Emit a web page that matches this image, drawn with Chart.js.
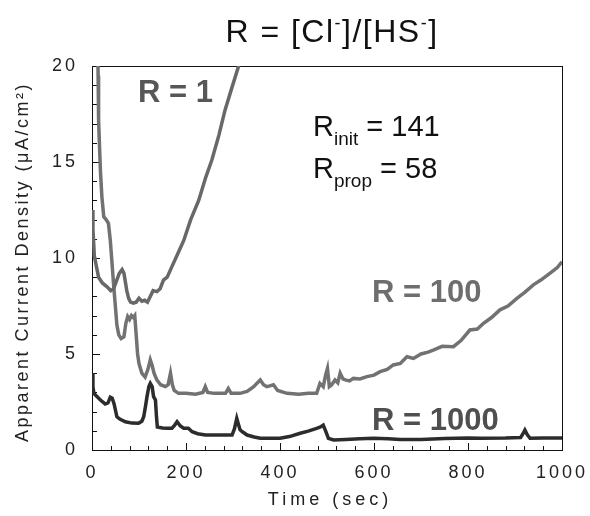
<!DOCTYPE html>
<html>
<head>
<meta charset="utf-8">
<script src="https://cdn.jsdelivr.net/npm/chart.js@4.4.1/dist/chart.umd.min.js"></script>
<style>
  html, body { margin: 0; padding: 0; background: #fff; }
  #wrap { width: 590px; height: 516px; }
</style>
</head>
<body>
<div id="wrap"><canvas id="chart"></canvas></div>
<script>
// ── Data ──
const xTickValues = [0, 200, 400, 600, 800, 1000];
const yTickValues = [0, 5, 10, 15, 20];

// R = 1
const timeR1 = [0, 2, 5, 9, 14, 22, 32, 40, 46, 52, 58, 64, 68, 74, 78, 82,
  88, 94, 100, 106, 112, 118, 124, 130, 138, 145, 152, 160, 170, 182,
  195, 210, 227, 242, 255, 270, 283, 298, 312, 318];
const currentR1 = [12.5, 11.5, 10.1, 9.6, 9.0, 8.7, 8.5, 8.3, 8.4, 8.8, 9.2, 9.4, 9.2, 8.3, 7.9, 7.7,
  7.65, 7.7, 7.9, 7.75, 7.8, 7.7, 8.0, 8.3, 8.25, 8.4, 8.85, 9.0, 9.55, 10.2,
  10.9, 12.0, 13.0, 14.2, 15.1, 16.4, 17.7, 18.9, 20.0, 20.5];

// R = 100
const timeR100 = [12, 13, 14, 16, 18, 21, 25, 30, 35, 39, 43, 46, 50, 53, 57, 62,
  68, 72, 76, 80, 84, 88, 91, 94, 97, 100, 106, 113, 119, 124,
  128, 132, 138, 146, 156, 162, 167, 171, 175, 184, 200, 220, 236, 241,
  246, 260, 284, 290, 296, 315, 330, 344, 352, 358, 365, 372, 380, 386,
  395, 415, 440, 460, 478, 485, 492, 497, 501, 505, 510, 517, 523, 528,
  534, 539, 548, 556, 570, 585, 600, 613, 628, 641, 656, 670, 684, 700,
  715, 726, 745, 769, 785, 804, 820, 833, 850, 868, 885, 904, 920, 939,
  955, 974, 990, 1000];
const currentR100 = [21.5, 19.5, 17.2, 15.8, 14.5, 13.2, 12.15, 12.0, 11.8, 10.9, 9.6, 8.6, 7.4, 6.5, 6.0, 5.8,
  5.9, 6.6, 6.95, 6.8, 7.0, 6.9, 7.0, 6.0, 5.0, 4.5, 4.0, 3.8, 4.2, 4.7,
  4.4, 4.0, 3.65, 3.4, 3.3, 3.4, 4.0, 3.4, 3.1, 2.95, 2.95, 2.9, 3.0, 3.3,
  3.0, 2.95, 2.95, 3.2, 2.95, 2.95, 3.05, 3.3, 3.5, 3.65, 3.4, 3.3, 3.35, 3.4,
  3.1, 2.95, 2.9, 2.95, 2.95, 3.47, 3.3, 3.9, 4.25, 3.3, 3.4, 3.65, 3.5, 4.0,
  3.7, 3.65, 3.6, 3.73, 3.7, 3.82, 3.9, 4.08, 4.2, 4.43, 4.51, 4.86, 4.77, 5.0,
  5.1, 5.2, 5.4, 5.38, 5.7, 6.25, 6.3, 6.6, 6.9, 7.3, 7.5, 7.9, 8.2, 8.6,
  8.85, 9.2, 9.5, 9.8];

// R = 1000
const timeR1000 = [0, 2, 4, 10, 18, 28, 34, 39, 43, 47, 53, 60, 71, 85, 99,
  106, 110, 114, 117, 121, 124, 128, 131, 135, 137, 139, 150, 160, 170,
  176, 181, 188, 195, 205, 213, 225, 241, 270, 298, 303, 308, 312, 315,
  320, 330, 345, 358, 380, 400, 420, 443, 460, 478, 486, 492, 497, 503,
  514, 540, 570, 599, 630, 656, 700, 750, 800, 826, 880, 912, 917, 921,
  926, 932, 960, 1000];
const currentR1000 = [4.0, 3.3, 2.95, 2.8, 2.6, 2.4, 2.45, 2.75, 2.7, 2.4, 1.73, 1.6, 1.47, 1.4, 1.39,
  1.5, 1.73, 2.3, 2.78, 3.3, 3.47, 3.3, 2.78, 2.6, 1.8, 1.2, 1.15, 1.13, 1.13,
  1.3, 1.47, 1.25, 1.13, 1.13, 0.95, 0.85, 0.78, 0.78, 0.78, 1.1, 1.65, 1.3, 1.05,
  0.95, 0.78, 0.68, 0.61, 0.61, 0.61, 0.7, 0.87, 0.98, 1.13, 1.2, 1.3, 1.0, 0.61,
  0.52, 0.55, 0.58, 0.61, 0.58, 0.55, 0.55, 0.6, 0.62, 0.61, 0.62, 0.65, 0.85, 1.04,
  0.8, 0.61, 0.62, 0.63];

const toPoints = (xs, ys) => xs.map((x, i) => ({ x: x, y: ys[i] }));

const FONT = "'Liberation Sans', Arial, sans-serif";

// draw a run of text pieces (for sub/superscripts)
function drawRun(ctx, parts, x, y, align) {
  let total = 0;
  parts.forEach(p => { ctx.font = p.font; total += ctx.measureText(p.text).width; });
  let cx = align === 'center' ? x - total / 2 : x;
  ctx.textAlign = 'left';
  ctx.textBaseline = 'alphabetic';
  parts.forEach(p => {
    ctx.font = p.font;
    ctx.fillText(p.text, cx, y + (p.dy || 0));
    cx += ctx.measureText(p.text).width;
  });
}

// ── Frame, inward ticks and labels ──
const decorPlugin = {
  id: 'decor',
  beforeDraw(chart) {
    chart.ctx.letterSpacing = '3px';
  },
  beforeDatasetsDraw(chart) {
    const { ctx, chartArea: a, scales: { x, y } } = chart;
    ctx.save();
    ctx.strokeStyle = '#111';
    ctx.lineWidth = 1;
    ctx.strokeRect(a.left + 0.5, a.top + 0.5, a.right - a.left, a.bottom - a.top);
    ctx.beginPath();
    for (let t = 0; t <= 1000; t += 40) {
      const px = Math.round(x.getPixelForValue(t)) + 0.5;
      const len = t % 200 === 0 ? 7 : 4;
      ctx.moveTo(px, a.bottom);
      ctx.lineTo(px, a.bottom - len);
    }
    for (let v = 0; v <= 20; v += 1) {
      const py = Math.round(y.getPixelForValue(v)) + 0.5;
      const len = v % 5 === 0 ? 8 : 5;
      ctx.moveTo(a.left, py);
      ctx.lineTo(a.left + len, py);
    }
    ctx.stroke();
    ctx.restore();
  },
  afterDraw(chart) {
    const ctx = chart.ctx;
    ctx.save();

    // chart title
    ctx.letterSpacing = '1.5px';
    ctx.fillStyle = '#111';
    const big = '32px ' + FONT, sup = '18px ' + FONT;
    drawRun(ctx, [
      { text: 'R = [Cl', font: big },
      { text: '-', font: sup, dy: -13 },
      { text: ']/[HS', font: big },
      { text: '-', font: sup, dy: -13 },
      { text: ']', font: big }
    ], 332, 42, 'center');

    // x axis title
    ctx.letterSpacing = '4px';
    ctx.font = '18px ' + FONT;
    ctx.textAlign = 'center';
    ctx.fillStyle = '#222';
    ctx.fillText('Time (sec)', 330, 505);

    // y axis title
    ctx.save();
    ctx.translate(28, 262);
    ctx.rotate(-Math.PI / 2);
    ctx.letterSpacing = '2.5px';
    ctx.font = '18px ' + FONT;
    ctx.textAlign = 'center';
    ctx.fillText('Apparent Current Density (\u03bcA/cm\u00b2)', 0, 0);
    ctx.restore();

    // series labels
    ctx.letterSpacing = '0px';
    ctx.textAlign = 'left';
    ctx.font = 'bold 31px ' + FONT;
    ctx.fillStyle = '#575757';
    ctx.fillText('R = 1', 138, 102);
    ctx.fillStyle = '#6e6e6e';
    ctx.fillText('R = 100', 372, 302);
    ctx.fillStyle = '#4f4f4f';
    ctx.fillText('R = 1000', 372, 430);

    // ratio note
    ctx.fillStyle = '#111';
    const mid = '29px ' + FONT, sub = '19px ' + FONT;
    drawRun(ctx, [
      { text: 'R', font: mid },
      { text: 'init', font: sub, dy: 9 },
      { text: ' = 141', font: mid }
    ], 313, 136);
    drawRun(ctx, [
      { text: 'R', font: mid },
      { text: 'prop', font: sub, dy: 9 },
      { text: ' = 58', font: mid }
    ], 313, 178);

    ctx.restore();
  }
};

const lineStyle = (color) => ({
  borderColor: color,
  borderWidth: 3.5,
  pointRadius: 0,
  tension: 0,
  fill: false
});

new Chart(document.getElementById('chart'), {
  type: 'line',
  data: {
    datasets: [
      { label: 'R = 1', data: toPoints(timeR1, currentR1), ...lineStyle('#686868') },
      { label: 'R = 100', data: toPoints(timeR100, currentR100), ...lineStyle('#727272') },
      { label: 'R = 1000', data: toPoints(timeR1000, currentR1000), ...lineStyle('#2c2c2c') }
    ]
  },
  options: {
    responsive: true,
    maintainAspectRatio: false,
    animation: false,
    events: [],
    layout: { padding: { top: 66, right: 28, left: 0, bottom: 0 } },
    plugins: {
      legend: { display: false },
      tooltip: { enabled: false }
    },
    scales: {
      x: {
        type: 'linear',
        min: 0,
        max: 1000,
        afterBuildTicks: s => { s.ticks = xTickValues.map(v => ({ value: v })); },
        afterFit: s => { s.height = 66; s.paddingLeft = 0; s.paddingRight = 0; },
        grid: { drawOnChartArea: false, drawTicks: false },
        border: { display: true, color: '#111', width: 1 },
        ticks: { color: '#222', padding: 12, maxRotation: 0, callback: v => String(v),
                 font: { family: FONT, size: 18 } }
      },
      y: {
        type: 'linear',
        min: 0,
        max: 20,
        afterBuildTicks: s => { s.ticks = yTickValues.map(v => ({ value: v })); },
        afterFit: s => { s.width = 92; s.paddingTop = 0; s.paddingBottom = 0; },
        grid: { drawOnChartArea: false, drawTicks: false },
        border: { display: true, color: '#111', width: 1 },
        ticks: { color: '#222', padding: 14, callback: v => String(v),
                 font: { family: FONT, size: 18 } }
      }
    }
  },
  plugins: [decorPlugin]
});
</script>
</body>
</html>
